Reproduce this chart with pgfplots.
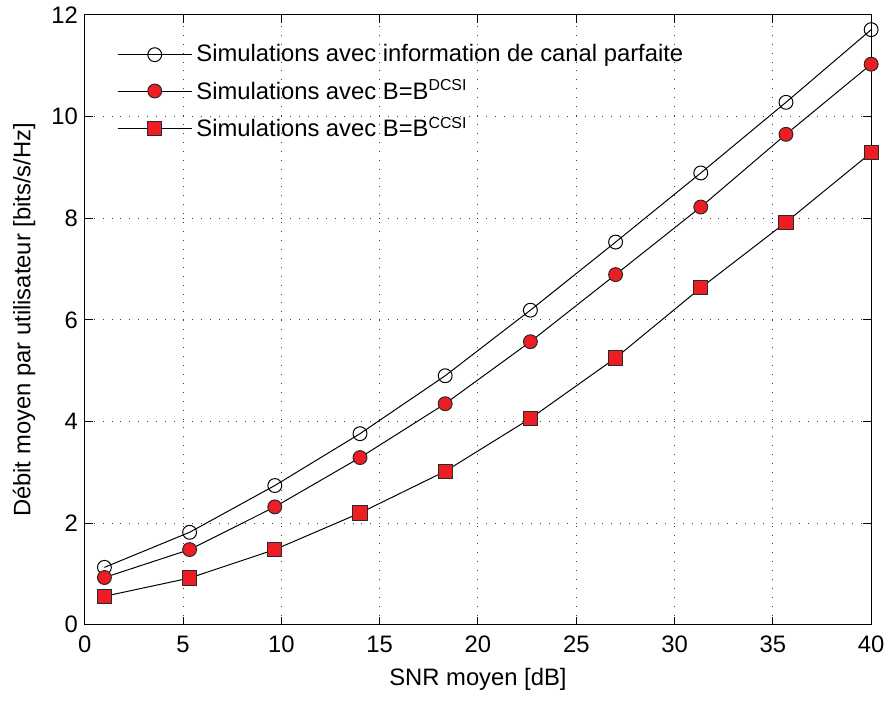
\documentclass[border=0pt]{standalone}
\usepackage{fontspec}
\setmainfont{Liberation Sans}
\usepackage{pgfplots}
\pgfplotsset{compat=1.18}
\definecolor{mred}{HTML}{EE1D23}
\definecolor{medge}{HTML}{2A2A2A}
\begin{document}
\begin{tikzpicture}
\begin{axis}[
  scale only axis,
  width=396.5pt, height=307.5pt,
  xmin=0, xmax=40, ymin=0, ymax=12,
  xtick={0,5,...,40}, ytick={0,2,...,12},
  /pgf/number format/assume math mode=true,
  tick label style={font=\fontsize{12}{14}\selectfont},
  xticklabel style={yshift=-2pt},
  label style={font=\fontsize{12}{14}\selectfont},
  xlabel={SNR moyen [dB]},
  ylabel={Débit moyen par utilisateur [bits/s/Hz]},
  tick align=inside,
  major tick length=4pt,
  tick style={black, line width=0.5pt},
  axis line style={black, line width=0.6pt},
  grid=major,
  major grid style={black!75, line width=0.5pt, dash pattern=on 0.5pt off 4pt},
  xlabel style={yshift=2pt, inner ysep=6.5pt},
  ylabel style={yshift=-2pt, inner ysep=6.5pt},
  legend style={draw=none, fill=none, at={(0.033,0.965)}, anchor=north west,
    font=\fontsize{12}{14}\selectfont, row sep=3.5pt,
    /tikz/every even column/.append style={column sep=1pt}},
  legend cell align=left,
  legend image code/.code={\draw[mark repeat=2,mark phase=2] plot coordinates {(0pt,0pt)(18.75pt,0pt)(37.5pt,0pt)};},
]
\addplot[black, line width=0.5pt, mark=o, mark size=3.5pt, mark options={draw=black, fill=none, line width=0.5pt},
  legend image post style={mark options={fill=white, draw=black}}] coordinates {
(1,1.13) (5.333,1.82) (9.667,2.74) (14,3.76) (18.333,4.90) (22.667,6.19) (27,7.53) (31.333,8.89) (35.667,10.28) (40,11.71)};
\addlegendentry{Simulations avec information de canal parfaite}
\addplot[black, line width=0.5pt, mark=*, mark size=3.5pt, mark options={draw=medge, fill=mred, line width=0.5pt}] coordinates {
(1,0.93) (5.333,1.48) (9.667,2.32) (14,3.29) (18.333,4.35) (22.667,5.57) (27,6.89) (31.333,8.22) (35.667,9.65) (40,11.03)};
\addlegendentry{Simulations avec B=B\textsuperscript{DCSI}}
\addplot[black, line width=0.5pt, mark=square*, mark size=3.6pt, mark options={draw=medge, fill=mred, line width=0.5pt}] coordinates {
(1,0.56) (5.333,0.92) (9.667,1.48) (14,2.20) (18.333,3.02) (22.667,4.06) (27,5.25) (31.333,6.63) (35.667,7.92) (40,9.29)};
\addlegendentry{Simulations avec B=B\textsuperscript{CCSI}}
\end{axis}
\end{tikzpicture}
\end{document}
